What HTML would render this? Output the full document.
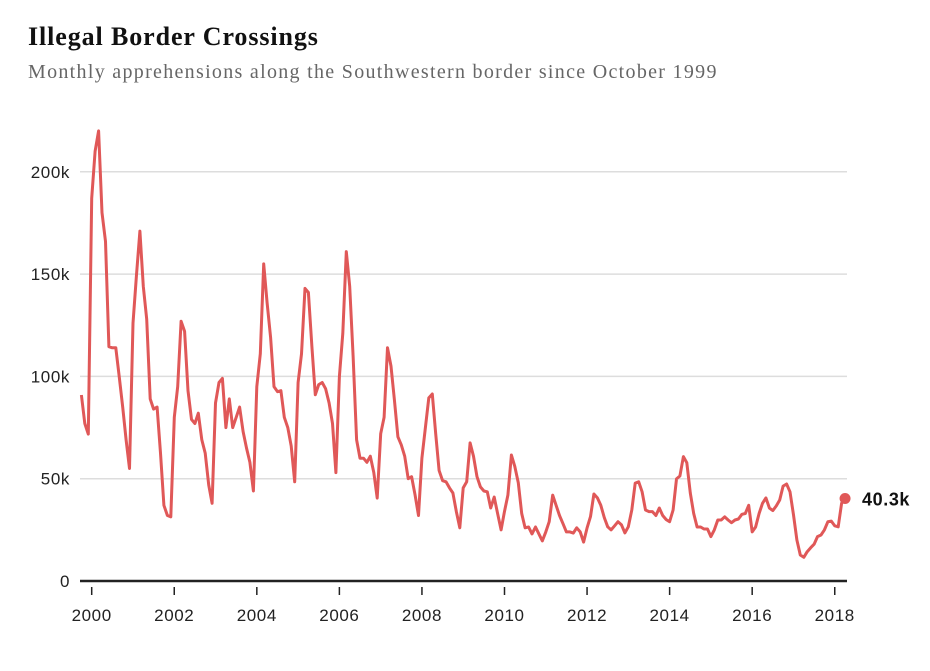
<!DOCTYPE html>
<html><head><meta charset="utf-8">
<style>
body{margin:0;background:#fff;width:930px;height:671px;overflow:hidden}
#title{position:absolute;left:28px;top:22px;font:bold 26px "Liberation Serif",serif;letter-spacing:0.9px;color:#111;margin:0}
#sub{position:absolute;left:28px;top:61px;font:20px "Liberation Serif",serif;letter-spacing:1.3px;color:#666;margin:0}
svg{position:absolute;left:0;top:0}
</style></head><body>
<h1 id="title">Illegal Border Crossings</h1>
<p id="sub">Monthly apprehensions along the Southwestern border since October 1999</p>
<svg id="chart" width="930" height="671"></svg>
<script>
const yTicks=[0,50,100,150,200];
const yTickLabels=["0","50k","100k","150k","200k"];
const xTickYears=[2000,2002,2004,2006,2008,2010,2012,2014,2016,2018];
const startYear=1999, startMonth=9; // October 1999 (0-based month)
const values=[90.9,77,71.8,187,210,220,180,166,114.5,114,114,100,85,69,55,126,149,171,144,128,89,84,85,62.5,37,32,31.4,80,95,127,122,93,79,77,82,69,62.5,47,38,87,97,99,75,89,75,80,85,73,65,58,44,95,111,155,136,119,95,92.5,93,80,75,66,48.5,97,111,143,141,114.5,91,96,97,94,87,77,53,100,121,161,144,110,69,60,60,58,61,53,40.5,72,80,114,105,88.5,70.5,66.5,61,50,51,42,32,60,75,89.5,91.4,72,54,49,48.5,45.5,43,34,26,45.5,48.5,67.5,61,51,46,44,43.6,35.7,41,33,25,34,42,61.6,56,48,33,26,26.4,23,26.4,23,19.6,24,29,42,37,32,28,24,24,23.4,26,24,19,26,31.5,42.5,40.6,37,31,26.5,25,27,29,27.4,23.5,26.5,34.7,47.8,48.5,43.6,34.7,33.9,33.9,32,35.7,32,30,29,34.7,49.9,51.3,60.8,57.8,43,33,26.4,26.4,25.4,25.4,21.7,25,29.8,29.8,31.4,29.8,28.5,29.8,30.3,32.6,33,37,24,26.4,33,38,40.6,35.7,34.4,36.7,39.6,46.4,47.4,43.6,32.3,20,12.7,11.6,14.3,16.3,18,21.7,22.5,25,29,29.3,27,26.5,38,40.3];
const lastLabel="40.3k";

const NS="http://www.w3.org/2000/svg";
const svg=document.getElementById('chart');
const X0=80,X1=847,Y0=581,PX50=102.3;
function xMonth(m){return 91.7+(m-3)*3.44;} // m = months since Oct 1999
function xScale(year){return xMonth((year-startYear)*12-startMonth);}
function yScale(v){return Y0-v/50*PX50;}
function mk(t,a){const e=document.createElementNS(NS,t);for(const k in a)e.setAttribute(k,a[k]);svg.appendChild(e);return e;}
yTicks.forEach((t,i)=>{
  if(t>0){const g=mk('line',{x1:X0,x2:X1,y1:yScale(t),y2:yScale(t),stroke:'#ddd','stroke-width':1.5});
  
  }
  const tx=mk('text',{x:70,y:yScale(t)+6,'text-anchor':'end','font-family':'Liberation Sans, sans-serif','font-size':17,'letter-spacing':0.6,fill:'#222'});
  tx.textContent=yTickLabels[i];
  
  
});
const ax=mk('line',{x1:X0,x2:X1,y1:Y0,y2:Y0,stroke:'#222','stroke-width':2.5});


xTickYears.forEach(yr=>{
  const x=xScale(yr);
  const tk=mk('line',{x1:x,x2:x,y1:587,y2:595,stroke:'#222','stroke-width':1.5});
  
  
  const tl=mk('text',{x:x,y:621,'text-anchor':'middle','font-family':'Liberation Sans, sans-serif','font-size':17,'letter-spacing':0.6,fill:'#222'});
  tl.textContent=yr;
  
  
});
const d=values.map((v,i)=>(i?'L':'M')+xMonth(i).toFixed(1)+','+yScale(v).toFixed(1)).join('');
const p=mk('path',{d:d,fill:'none',stroke:'#e05858','stroke-width':3,'stroke-linejoin':'round'});


const li=values.length-1;
const c=mk('circle',{cx:xMonth(li),cy:yScale(values[li]),r:5.5,fill:'#e05858'});


const lt=mk('text',{x:862,y:yScale(values[li])+7,'font-family':'Liberation Sans, sans-serif','font-size':18,'font-weight':'bold','letter-spacing':0.6,fill:'#111'});
lt.textContent=lastLabel;


</script>
</body></html>
